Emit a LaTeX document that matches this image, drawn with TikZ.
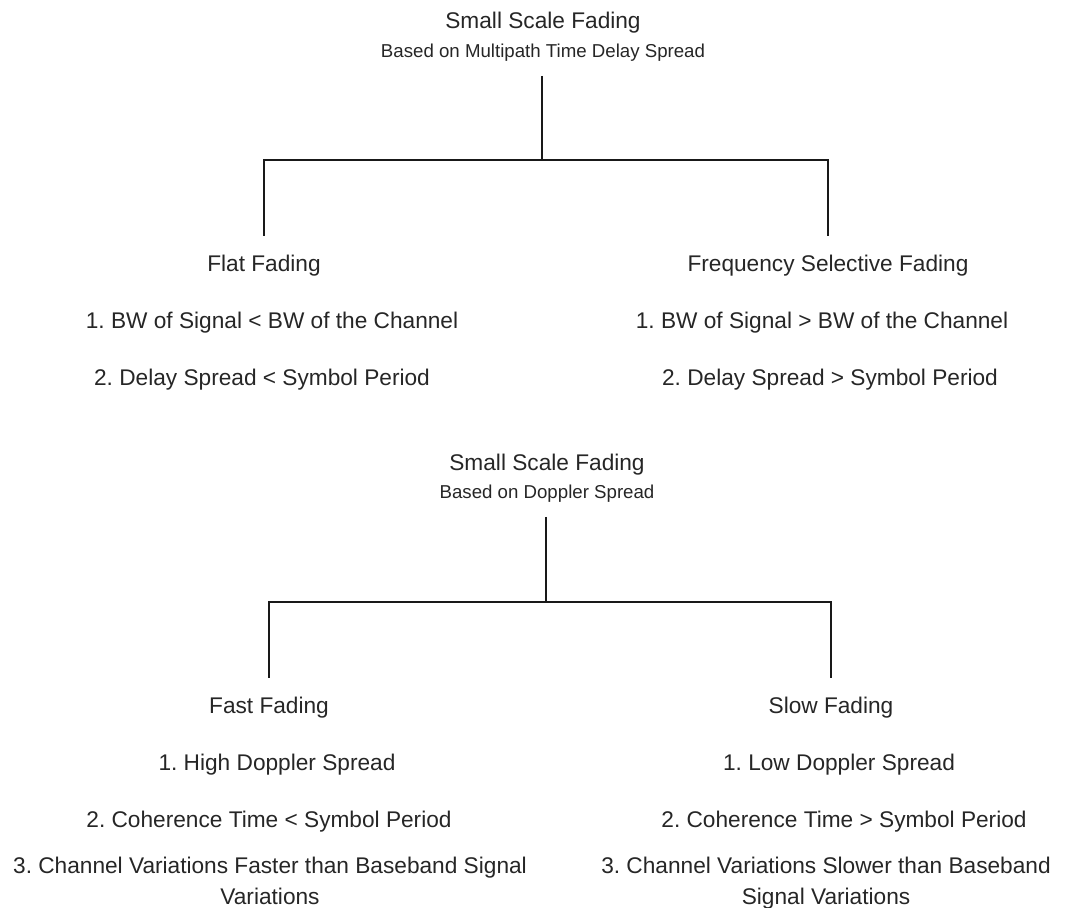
\documentclass[tikz,border=0pt]{standalone}
\usepackage{fontspec}
\setmainfont{Liberation Sans}
\usepackage{xcolor}
\usepackage{tikz}
\usetikzlibrary{calc}
\frenchspacing

\definecolor{inkgray}{HTML}{262626}

\begin{document}
\begin{tikzpicture}[x=0.75pt, y=-0.75pt,
  heading/.style={font=\fontsize{17}{23}\selectfont, text=inkgray, inner sep=0pt,
               anchor=base, text height=12.5pt, text depth=3.5pt},
  basis/.style={font=\fontsize{14}{17}\selectfont, text=inkgray, inner sep=0pt,
               anchor=base, text height=10pt, text depth=3pt},
  criterion/.style={font=\fontsize{17}{23}\selectfont, text=inkgray, inner sep=0pt,
               anchor=base, align=center},
  branch/.style={line width=1.5pt, black!90},
]
  \useasboundingbox (0,0) rectangle (1067,907);

  % Based on multipath time delay spread
  \node[heading] (ssf1) at (543, 28) {Small Scale Fading};
  \node[basis] (delay) at (543, 57) {Based on Multipath Time Delay Spread};
  \node[heading] (flat) at (264, 271) {Flat Fading};
  \node[heading] (freqsel) at (828, 271) {Frequency Selective Fading};
  \node[criterion] (flat1) at (272, 328) {1. BW of Signal < BW of the Channel};
  \node[criterion] (flat2) at (262, 385) {2. Delay Spread < Symbol Period};
  \node[criterion] (freq1) at (822, 328) {1. BW of Signal > BW of the Channel};
  \node[criterion] (freq2) at (830, 385) {2. Delay Spread > Symbol Period};

  \coordinate (fork1) at (542, 160);
  \draw[branch, shorten <=11pt] (delay.south -| fork1) -- (fork1);
  \foreach \c in {flat, freqsel} {
    \draw[branch, shorten >=13.7pt] (fork1) -| (\c.north);
  }

  % Based on Doppler spread
  \node[heading] (ssf2) at (547, 470) {Small Scale Fading};
  \node[basis] (doppler) at (547, 498) {Based on Doppler Spread};
  \node[heading] (fast) at (269, 713) {Fast Fading};
  \node[heading] (slow) at (831, 713) {Slow Fading};
  \node[criterion] (fast1) at (277, 770) {1. High Doppler Spread};
  \node[criterion] (fast2) at (269, 827) {2. Coherence Time < Symbol Period};
  % two-line nodes sit on the baseline of their last line
  \node[criterion] (fast3) at (270, 904) {3. Channel Variations Faster than Baseband Signal\\Variations};
  \node[criterion] (slow1) at (839, 770) {1. Low Doppler Spread};
  \node[criterion] (slow2) at (844, 827) {2. Coherence Time > Symbol Period};
  \node[criterion] (slow3) at (826, 904) {3. Channel Variations Slower than Baseband\\Signal Variations};

  \coordinate (fork2) at (546, 602);
  \draw[branch, shorten <=11pt] (doppler.south -| fork2) -- (fork2);
  \foreach \c in {fast, slow} {
    \draw[branch, shorten >=13.7pt] (fork2) -| (\c.north);
  }
\end{tikzpicture}
\end{document}
